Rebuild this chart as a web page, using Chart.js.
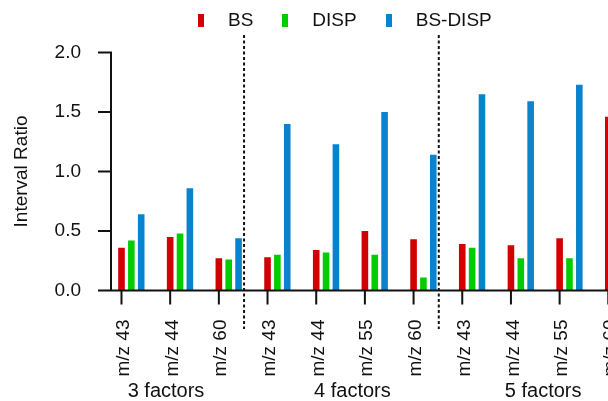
<!DOCTYPE html>
<html>
<head>
<meta charset="utf-8">
<script src="https://cdn.jsdelivr.net/npm/chart.js@4.4.0/dist/chart.umd.min.js"></script>
<style>
  html, body { margin: 0; padding: 0; background: #fff; overflow: hidden; }
  #wrap { position: relative; width: 608px; height: 401px; overflow: hidden; }
  #chart { position: absolute; left: 0; top: 0; }
  #legend { position: absolute; left: 198px; top: 7px; height: 26px; display: flex; align-items: center;
            font: 19px 'Liberation Sans', Arial, sans-serif; color: #111; white-space: nowrap; }
  .item { display: flex; align-items: center; margin-right: 29px; }
  .swatch { width: 6px; height: 13px; margin-right: 24px; }
</style>
</head>
<body>
<div id="wrap">
  <canvas id="chart" width="662" height="401" style="width:662px;height:401px"></canvas>
  <div id="legend"></div>
</div>
<script>
// categories (m/z per factor solution)
const categories = ['m/z 43', 'm/z 44', 'm/z 60',
                    'm/z 43', 'm/z 44', 'm/z 55', 'm/z 60',
                    'm/z 43', 'm/z 44', 'm/z 55', 'm/z 60'];
const groupNames = ['3 factors', '4 factors', '5 factors'];
const groupSizes = [3, 4, 4];

const seriesNames = ['BS', 'DISP', 'BS-DISP'];
const seriesColors = ['#d20000', '#00cc00', '#0a82cc'];

// values (last group partly outside the frame)
const bsValues     = [0.36, 0.45, 0.27, 0.28, 0.34, 0.50, 0.43, 0.39, 0.38, 0.44, 1.46];
const dispValues   = [0.42, 0.48, 0.26, 0.30, 0.32, 0.30, 0.11, 0.36, 0.27, 0.27, null];
const bsDispValues = [0.64, 0.86, 0.44, 1.40, 1.23, 1.50, 1.14, 1.65, 1.59, 1.73, null];

const yTicks = [0, 0.5, 1.0, 1.5, 2.0];

const FONT = "'Liberation Sans', Arial, sans-serif";
Chart.defaults.font.family = FONT;
Chart.defaults.font.size = 19;
Chart.defaults.color = '#111';

// legend as html
const legendEl = document.getElementById('legend');
seriesNames.forEach(function(name, i) {
    const item = document.createElement('div');
    item.className = 'item';
    const sw = document.createElement('span');
    sw.className = 'swatch';
    sw.style.background = seriesColors[i];
    const txt = document.createElement('span');
    txt.textContent = name;
    item.appendChild(sw);
    item.appendChild(txt);
    legendEl.appendChild(item);
});

// Prism style axes, dividers and group labels
const prismAxes = {
    id: 'prismAxes',
    afterDraw(chart) {
        const ctx = chart.ctx;
        const y = chart.scales.y;
        const red = chart.getDatasetMeta(0).data;
        const green = chart.getDatasetMeta(1).data;
        const blue = chart.getDatasetMeta(2).data;
        const y0 = y.getPixelForValue(0);
        const axisX = chart.chartArea.left + 4;

        ctx.save();
        ctx.strokeStyle = '#111';
        ctx.lineWidth = 2;
        ctx.lineCap = 'butt';

        // y axis + ticks
        ctx.beginPath();
        ctx.moveTo(axisX, y.getPixelForValue(yTicks[yTicks.length - 1]) - 1);
        ctx.lineTo(axisX, y0 + 1);
        yTicks.forEach(function(v) {
            const py = y.getPixelForValue(v);
            ctx.moveTo(axisX - 13, py);
            ctx.lineTo(axisX + 1, py);
        });
        // x axis
        ctx.moveTo(axisX, y0);
        ctx.lineTo(chart.width, y0);
        // x ticks under the first bar of each group
        red.forEach(function(bar) {
            ctx.moveTo(bar.x, y0);
            ctx.lineTo(bar.x, y0 + 14);
        });
        ctx.stroke();

        // dotted dividers between factor groups
        ctx.setLineDash([3, 2.5]);
        let idx = 0;
        for (let g = 0; g < groupSizes.length - 1; g++) {
            idx += groupSizes[g];
            const dx = blue[idx - 1].x + 5.5;
            ctx.beginPath();
            ctx.moveTo(dx, 35);
            ctx.lineTo(dx, 329);
            ctx.stroke();
        }
        ctx.setLineDash([]);

        // group labels
        const nudge = [-14, 2, -2];
        ctx.fillStyle = '#111';
        ctx.font = '20px ' + FONT;
        ctx.textAlign = 'center';
        ctx.textBaseline = 'alphabetic';
        let start = 0;
        groupSizes.forEach(function(n, g) {
            let sum = 0;
            for (let k = start; k < start + n; k++) sum += green[k].x;
            ctx.fillText(groupNames[g], sum / n + nudge[g], 397);
            start += n;
        });
        ctx.restore();
    }
};

const ctx = document.getElementById('chart').getContext('2d');
new Chart(ctx, {
    type: 'bar',
    data: {
        labels: categories,
        datasets: [
            { label: seriesNames[0], data: bsValues, backgroundColor: seriesColors[0] },
            { label: seriesNames[1], data: dispValues, backgroundColor: seriesColors[1] },
            { label: seriesNames[2], data: bsDispValues, backgroundColor: seriesColors[2] }
        ]
    },
    options: {
        responsive: false,
        animation: false,
        datasets: {
            bar: {
                categoryPercentage: 0.607,
                barPercentage: 0.67,
                borderWidth: 0
            }
        },
        layout: {
            padding: { top: 52.5, right: 1, bottom: 0, left: 0 }
        },
        scales: {
            x: {
                grid: { display: false },
                border: { display: false },
                ticks: {
                    autoSkip: false,
                    minRotation: 90,
                    maxRotation: 90,
                    padding: 21,
                    labelOffset: -7.5,
                    color: '#111'
                },
                afterFit: function(scale) { scale.height = 110.5; }
            },
            y: {
                min: 0,
                max: 2,
                grid: { display: false },
                border: { display: false },
                ticks: {
                    stepSize: 0.5,
                    padding: 18,
                    color: '#111',
                    callback: function(v) { return Number(v).toFixed(1); }
                },
                title: {
                    display: true,
                    text: 'Interval Ratio',
                    color: '#111',
                    padding: { top: 10, bottom: 0 }
                },
                afterFit: function(scale) { scale.width = 107; }
            }
        },
        plugins: {
            legend: { display: false },
            tooltip: { enabled: false }
        }
    },
    plugins: [prismAxes]
});
</script>
</body>
</html>
